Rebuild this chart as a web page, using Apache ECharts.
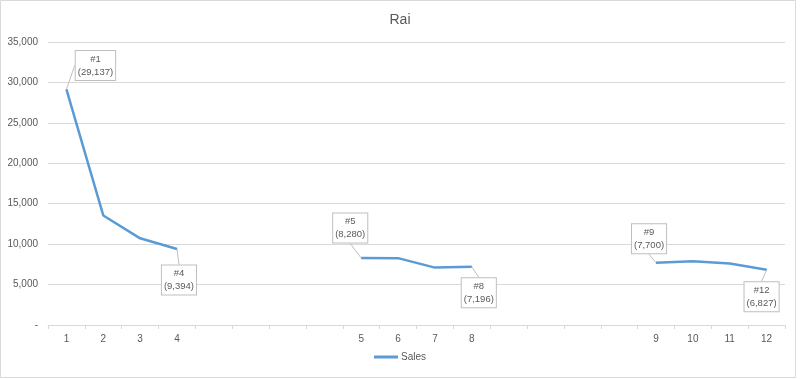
<!DOCTYPE html>
<html>
<head>
<meta charset="utf-8">
<script src="https://cdn.jsdelivr.net/npm/echarts@6/dist/echarts.min.js"></script>
<style>
html,body{margin:0;padding:0;background:#fff;}
#chart{width:800px;height:379px;}
</style>
</head>
<body>
<div id="chart"></div>
<script>
// Categories (blank ones are the gaps between groups)
const categories = ['1','2','3','4','','','','','5','6','7','8','','','','','9','10','11','12'];
// Sales values (null = gap)
const sales = [29137, 13550, 10720, 9394, null, null, null, null, 8280, 8270, 7100, 7196, null, null, null, null, 7700, 7880, 7600, 6827];
// Labelled points: index -> label text
const labelIdx = [0, 3, 8, 11, 16, 19];
const labelNames = ['#1', '#4', '#5', '#8', '#9', '#12'];
const yTicks = [0, 5000, 10000, 15000, 20000, 25000, 30000, 35000];

const labelOffsets = {0:[29,-24], 3:[2,31], 8:[-11,-30], 11:[7,26], 16:[-7,-24], 19:[-5,27]};

function fmt(v){ return v.toLocaleString('en-US'); }

const seriesData = sales.map((v, i) => {
  const k = labelIdx.indexOf(i);
  if (k < 0 || v === null) return v;
  return {
    value: v,
    label: {
      show: true,
      formatter: labelNames[k] + '\n(' + fmt(v) + ')'
    }
  };
});

const chart = echarts.init(document.getElementById('chart'), null, {renderer: 'canvas'});
chart.setOption({
  animation: false,
  backgroundColor: '#fff',
  title: {
    text: 'Rai',
    left: 'center',
    top: 8,
    textStyle: {fontFamily: 'Liberation Sans', fontSize: 14, fontWeight: 'normal', color: '#595959'}
  },
  legend: {
    bottom: 12,
    left: 'center',
    itemWidth: 24,
    itemHeight: 3,
    itemGap: 4,
    icon: 'rect',
    textStyle: {fontFamily: 'Liberation Sans', fontSize: 10, color: '#595959', padding: [0,0,0,-2]},
    data: ['Sales']
  },
  grid: {left: 48, right: 15, top: 42, bottom: 54, containLabel: false},
  xAxis: {
    type: 'category',
    data: categories,
    boundaryGap: true,
    axisLine: {lineStyle: {color: '#d9d9d9', width: 1}},
    axisTick: {show: true, length: 4, lineStyle: {color: '#d9d9d9'}, interval: 0},
    axisLabel: {interval: 0, fontFamily: 'Liberation Sans', fontSize: 10, color: '#595959', margin: 9},
    splitLine: {show: false}
  },
  yAxis: {
    type: 'value',
    min: 0,
    max: 35000,
    interval: 5000,
    axisLine: {show: false},
    axisTick: {show: false},
    axisLabel: {
      fontFamily: 'Liberation Sans', fontSize: 10, color: '#595959', margin: 10,
      formatter: v => v === 0 ? '-' : fmt(v)
    },
    splitLine: {lineStyle: {color: '#d9d9d9', width: 1}}
  },
  series: [{
    name: 'Sales',
    type: 'line',
    data: seriesData,
    connectNulls: false,
    showSymbol: true,
    symbol: 'circle',
    symbolSize: 1,
    itemStyle: {color: '#5b9bd5'},
    lineStyle: {color: '#5b9bd5', width: 2.5},
    label: {
      show: false,
      position: 'inside',
      fontFamily: 'Liberation Sans',
      fontSize: 9.5,
      lineHeight: 13,
      color: '#595959',
      backgroundColor: '#fff',
      borderColor: '#bfbfbf',
      borderWidth: 1,
      padding: [2, 2, 1, 2],
      align: 'center'
    },
    labelLine: {show: true, lineStyle: {color: '#bfbfbf', width: 1}},
    labelLayout: function (params) {
      const o = labelOffsets[params.dataIndex] || [0, 0];
      return {dx: o[0], dy: o[1]};
    }
  }],
  graphic: [{
    type: 'rect',
    shape: {x: 0.5, y: 0.5, width: 795, height: 377},
    style: {fill: 'none', stroke: '#d9d9d9', lineWidth: 1},
    silent: true
  }]
});
</script>
</body>
</html>
